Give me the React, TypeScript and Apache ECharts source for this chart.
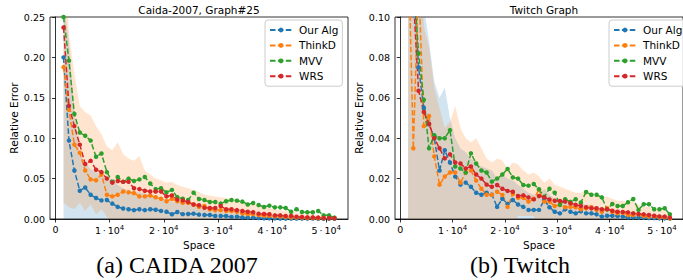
import React, { useEffect, useRef } from "react";
import * as echarts from "echarts";

// x values (Space) shared by both panels
const SPACE = [
  1500, 2500, 3500, 4500, 5500, 6500, 7500, 8500, 9500, 10500,
  11500, 12500, 13500, 14500, 15500, 16500, 17500, 18500, 19500, 20500,
  21500, 22500, 23500, 24500, 25500, 26500, 27500, 28500, 29500, 30500,
  31500, 32500, 33500, 34500, 35500, 36500, 37500, 38500, 39500, 40500,
  41500, 42500, 43500, 44500, 45500, 46500, 47500, 48500, 49500, 50500,
  51500,
];
const SERIES_NAMES = ["Our Alg", "ThinkD", "MVV", "WRS"];
const X_TICKS = [0, 10000, 20000, 30000, 40000, 50000];

// ---------- Caida-2007, Graph#25 ----------
const caidaOurAlg = [
  0.2, 0.097, 0.06, 0.035, 0.039, 0.03, 0.026, 0.023, 0.0235, 0.019,
  0.015, 0.013, 0.012, 0.011, 0.012, 0.011, 0.012, 0.0115, 0.01, 0.009,
  0.0058, 0.0087, 0.006, 0.0062, 0.0066, 0.0054, 0.005, 0.005, 0.0038, 0.0037,
  0.0037, 0.0026, 0.0029, 0.002, 0.0017, 0.0017, 0.0012, 0.0009, 0.0009, 0.0008,
  0.0007, 0.0007, 0.0006, 0.0006, 0.0005, 0.0005, 0.0005, 0.0004, 0.0004, 0.0004,
  0.0003,
];
const caidaThinkD = [
  0.188, 0.135, 0.092, 0.082, 0.06, 0.049, 0.048, 0.055, 0.03, 0.028,
  0.03, 0.034, 0.033, 0.032, 0.028, 0.028, 0.029, 0.027, 0.025, 0.022,
  0.025, 0.022, 0.02, 0.02, 0.018, 0.015, 0.016, 0.012, 0.011, 0.011,
  0.01, 0.01, 0.009, 0.007, 0.006, 0.006, 0.005, 0.004, 0.004, 0.0033,
  0.003, 0.0025, 0.002, 0.0018, 0.0017, 0.0013, 0.0012, 0.001, 0.001, 0.0008,
  0.0008,
];
const caidaMVV = [
  0.25, 0.196, 0.13, 0.107, 0.103, 0.097, 0.077, 0.081, 0.058, 0.046,
  0.052, 0.046, 0.05, 0.047, 0.049, 0.052, 0.044, 0.037, 0.038, 0.033,
  0.036, 0.027, 0.025, 0.0235, 0.0326, 0.0248, 0.0235, 0.021, 0.021, 0.019,
  0.022, 0.0235, 0.0227, 0.0215, 0.018, 0.0198, 0.0173, 0.0149, 0.0165, 0.0144,
  0.0144, 0.0136, 0.009, 0.012, 0.0087, 0.0083, 0.0083, 0.0099, 0.0045, 0.0045,
  0.0017,
];
const caidaWRS = [
  0.237, 0.14, 0.115, 0.092, 0.068, 0.072, 0.061, 0.058, 0.05, 0.045,
  0.047, 0.046, 0.046, 0.038, 0.037, 0.035, 0.034, 0.034, 0.034, 0.028,
  0.029, 0.024, 0.023, 0.021, 0.018, 0.017, 0.014, 0.0136, 0.0136, 0.016,
  0.012, 0.012, 0.011, 0.0099, 0.009, 0.0083, 0.0066, 0.0062, 0.0058, 0.0045,
  0.0045, 0.0037, 0.0037, 0.0029, 0.0025, 0.002, 0.002, 0.0017, 0.0012, 0.0012,
  0.001,
];
const caidaOurAlgHi = [
  0.27, 0.22, 0.13, 0.08, 0.07, 0.062, 0.058, 0.055, 0.052, 0.048,
  0.042, 0.038, 0.036, 0.034, 0.033, 0.032, 0.03, 0.028, 0.026, 0.024,
  0.022, 0.021, 0.02, 0.019, 0.018, 0.017, 0.016, 0.015, 0.014, 0.013,
  0.012, 0.011, 0.01, 0.009, 0.008, 0.007, 0.006, 0.006, 0.005, 0.005,
  0.004, 0.004, 0.003, 0.003, 0.003, 0.002, 0.002, 0.002, 0.002, 0.002,
  0.001,
];
const caidaOurAlgLo = [
  0.0, -0.01, -0.01, -0.01, -0.01, -0.01, -0.01, -0.01, -0.01, -0.01,
  -0.01, -0.01, -0.01, -0.01, -0.01, -0.01, -0.01, -0.01, -0.01, -0.01,
  -0.01, -0.01, -0.01, -0.01, -0.01, -0.01, -0.01, -0.01, -0.01, -0.01,
  -0.01, -0.01, -0.01, -0.01, -0.01, -0.01, -0.01, -0.01, -0.01, -0.01,
  -0.01, -0.01, -0.01, -0.01, -0.01, -0.01, -0.01, -0.01, -0.01, -0.01,
  -0.01,
];
const caidaThinkDHi = [
  0.36, 0.23, 0.18, 0.14, 0.132, 0.128, 0.115, 0.105, 0.09, 0.085,
  0.095, 0.08, 0.075, 0.072, 0.078, 0.06, 0.055, 0.05, 0.048, 0.045,
  0.046, 0.042, 0.04, 0.038, 0.036, 0.033, 0.03, 0.029, 0.028, 0.027,
  0.026, 0.025, 0.024, 0.022, 0.02, 0.018, 0.017, 0.015, 0.014, 0.012,
  0.011, 0.01, 0.009, 0.008, 0.007, 0.006, 0.006, 0.005, 0.004, 0.004,
  0.003,
];
const caidaThinkDLo = [
  0.02, 0.015, 0.012, 0.02, 0.01, 0.018, 0.006, 0.012, 0.003, -0.01,
  -0.02, -0.02, -0.02, -0.02, -0.02, -0.02, -0.02, -0.02, -0.02, -0.02,
  -0.02, -0.02, -0.02, -0.02, -0.02, -0.02, -0.02, -0.02, -0.02, -0.02,
  -0.02, -0.02, -0.02, -0.02, -0.02, -0.02, -0.02, -0.02, -0.02, -0.02,
  -0.02, -0.02, -0.02, -0.02, -0.02, -0.02, -0.02, -0.02, -0.02, -0.02,
  -0.02,
];

// ---------- Twitch Graph ----------
const twitchOurAlg = [
  0.14, 0.12, 0.075, 0.055, 0.047, 0.04, 0.024, 0.034, 0.028, 0.021,
  0.017, 0.018, 0.016, 0.013, 0.012, 0.013, 0.012, 0.006, 0.01, 0.0075,
  0.0094, 0.0072, 0.006, 0.0045, 0.0045, 0.0045, 0.0094, 0.0058, 0.0036, 0.0028,
  0.0048, 0.0036, 0.0028, 0.0038, 0.0028, 0.0028, 0.0023, 0.0012, 0.0016, 0.0016,
  0.0015, 0.0012, 0.0008, 0.0008, 0.0007, 0.0007, 0.0005, 0.0005, 0.0003, 0.0003,
  0.0002,
];
const twitchThinkD = [
  0.14, 0.035, 0.12, 0.046, 0.051, 0.031, 0.017, 0.021, 0.023, 0.023,
  0.018, 0.023, 0.024, 0.019, 0.015, 0.012, 0.012, 0.0135, 0.0119, 0.006,
  0.0125, 0.0105, 0.0105, 0.0086, 0.01, 0.0144, 0.0086, 0.0086, 0.0064, 0.007,
  0.0058, 0.006, 0.0058, 0.0048, 0.0053, 0.0058, 0.0045, 0.0036, 0.0053, 0.0036,
  0.0028, 0.0031, 0.002, 0.002, 0.0023, 0.0015, 0.0012, 0.0012, 0.0008, 0.0008,
  0.0003,
];
const twitchMVV = [
  0.13, 0.12, 0.082, 0.059, 0.035, 0.0415, 0.04, 0.04, 0.044, 0.026,
  0.025, 0.023, 0.0325, 0.0275, 0.024, 0.023, 0.0185, 0.02, 0.022, 0.0248,
  0.0206, 0.02, 0.0168, 0.0165, 0.0173, 0.0147, 0.011, 0.015, 0.013, 0.007,
  0.0098, 0.0085, 0.0098, 0.0082, 0.0134, 0.012, 0.012, 0.0107, 0.0048, 0.0074,
  0.0064, 0.0064, 0.0083, 0.0099, 0.0045, 0.0073, 0.0073, 0.0048, 0.0048, 0.0053,
  0.0023,
];
const twitchWRS = [
  0.15, 0.11, 0.0635, 0.053, 0.047, 0.04, 0.035, 0.03, 0.032, 0.028,
  0.0275, 0.025, 0.026, 0.022, 0.02, 0.017, 0.016, 0.0168, 0.015, 0.0139,
  0.0135, 0.0114, 0.0117, 0.0107, 0.0097, 0.0114, 0.0107, 0.0097, 0.009, 0.0089,
  0.0086, 0.0078, 0.007, 0.0064, 0.0058, 0.0053, 0.0053, 0.0048, 0.0048, 0.0041,
  0.0036, 0.0035, 0.0033, 0.0028, 0.0025, 0.0023, 0.002, 0.0016, 0.0013, 0.0012,
  0.0007,
];
const twitchOurAlgHi = [
  0.2, 0.2, 0.16, 0.105, 0.088, 0.068, 0.06, 0.065, 0.05, 0.04,
  0.035, 0.033, 0.03, 0.028, 0.026, 0.025, 0.024, 0.02, 0.022, 0.02,
  0.019, 0.017, 0.015, 0.013, 0.012, 0.012, 0.015, 0.012, 0.01, 0.009,
  0.01, 0.009, 0.008, 0.008, 0.007, 0.007, 0.006, 0.005, 0.005, 0.005,
  0.004, 0.004, 0.003, 0.003, 0.003, 0.003, 0.002, 0.002, 0.002, 0.002,
  0.001,
];
const twitchOurAlgLo = [
  -0.01, -0.01, -0.01, -0.01, -0.01, -0.01, -0.01, -0.01, -0.01, -0.01,
  -0.01, -0.01, -0.01, -0.01, -0.01, -0.01, -0.01, -0.01, -0.01, -0.01,
  -0.01, -0.01, -0.01, -0.01, -0.01, -0.01, -0.01, -0.01, -0.01, -0.01,
  -0.01, -0.01, -0.01, -0.01, -0.01, -0.01, -0.01, -0.01, -0.01, -0.01,
  -0.01, -0.01, -0.01, -0.01, -0.01, -0.01, -0.01, -0.01, -0.01, -0.01,
  -0.01,
];
const twitchThinkDHi = [
  0.25, 0.2, 0.16, 0.095, 0.085, 0.065, 0.055, 0.045, 0.048, 0.056,
  0.045, 0.04, 0.038, 0.04, 0.035, 0.03, 0.028, 0.03, 0.029, 0.025,
  0.028, 0.027, 0.024, 0.022, 0.023, 0.021, 0.018, 0.02, 0.017, 0.016,
  0.015, 0.014, 0.013, 0.013, 0.014, 0.013, 0.012, 0.011, 0.011, 0.01,
  0.009, 0.009, 0.008, 0.009, 0.007, 0.006, 0.006, 0.005, 0.005, 0.004,
  0.003,
];
const twitchThinkDLo = [
  -0.02, -0.02, -0.02, -0.02, -0.02, -0.02, -0.02, -0.02, -0.02, -0.02,
  -0.02, -0.02, -0.02, -0.02, -0.02, -0.02, -0.02, -0.02, -0.02, -0.01,
  -0.005, 0.0015, 0.0015, 0.0015, 0.0015, -0.005, -0.01, -0.01, -0.01, -0.01,
  -0.01, -0.01, -0.01, -0.01, -0.01, -0.01, -0.01, -0.01, -0.01, -0.01,
  -0.01, -0.01, -0.01, -0.01, -0.01, -0.01, -0.01, -0.01, -0.01, -0.01,
  -0.01,
];

const COLORS = ["#1f77b4", "#ff7f0e", "#2ca02c", "#d62728"];
const FONT = "DejaVu Sans";

function lineSeries(panel: number, name: string, vals: number[], color: string) {
  return {
    type: "line",
    name,
    xAxisIndex: panel,
    yAxisIndex: panel,
    data: SPACE.map((x, i) => [x, vals[i]]),
    symbol: "circle",
    symbolSize: 4.5,
    showSymbol: true,
    lineStyle: { type: [5.5, 2.4], width: 1.5, color },
    itemStyle: { color },
    clip: true,
    z: 5,
  };
}

function bandSeries(panel: number, lo: number[], hi: number[], color: string, z: number) {
  return {
    type: "custom",
    xAxisIndex: panel,
    yAxisIndex: panel,
    silent: true,
    clip: true,
    z,
    data: [[SPACE[0], 0]],
    encode: { x: 0, y: 1 },
    renderItem: (_params: any, api: any) => {
      const pts: number[][] = [];
      for (let i = 0; i < SPACE.length; i++) pts.push(api.coord([SPACE[i], hi[i]]));
      for (let i = SPACE.length - 1; i >= 0; i--) pts.push(api.coord([SPACE[i], lo[i]]));
      return {
        type: "polygon",
        shape: { points: pts },
        style: { fill: color, fillOpacity: 0.2, opacity: 1 },
      };
    },
  };
}

function xAxis(panel: number) {
  return {
    type: "value",
    gridIndex: panel,
    min: -1000,
    max: 54000,
    name: "Space",
    nameLocation: "middle",
    nameGap: 17,
    nameTextStyle: { fontSize: 10.5, fontFamily: FONT, color: "#000" },
    splitLine: { show: false },
    axisLine: { lineStyle: { color: "#000", width: 0.8 } },
    axisTick: { customValues: X_TICKS, length: 3.5, lineStyle: { color: "#000", width: 0.8 } },
    axisLabel: {
      customValues: X_TICKS,
      margin: 5,
      formatter: (v: number) =>
        v === 0 ? "{n|0}" : `{n|${v / 10000}\u2009·\u200910}{s|4}`,
      rich: {
        n: { fontSize: 9.5, fontFamily: FONT, color: "#000" },
        s: { fontSize: 7, fontFamily: FONT, color: "#000", padding: [0, 0, 5, 0] },
      },
    },
  };
}

function yAxis(panel: number, max: number, interval: number) {
  return {
    type: "value",
    gridIndex: panel,
    min: 0,
    max,
    interval,
    name: "Relative Error",
    nameLocation: "middle",
    nameGap: 30,
    nameTextStyle: { fontSize: 10.5, fontFamily: FONT, color: "#000" },
    splitLine: { show: false },
    axisLine: { show: true, lineStyle: { color: "#000", width: 0.8 } },
    axisTick: { show: true, length: 3.5, lineStyle: { color: "#000", width: 0.8 } },
    axisLabel: {
      margin: 5,
      fontSize: 9.5,
      fontFamily: FONT,
      color: "#000",
      formatter: (v: number) => v.toFixed(2),
    },
  };
}

function legend(left: number) {
  return {
    data: SERIES_NAMES,
    orient: "vertical",
    left,
    top: 20,
    padding: [4, 4, 4, 4],
    itemWidth: 22,
    itemHeight: 6,
    itemGap: 3.4,
    backgroundColor: "rgba(255,255,255,0.8)",
    borderColor: "#cccccc",
    borderWidth: 1,
    borderRadius: 3,
    textStyle: { fontSize: 10.5, fontFamily: FONT, color: "#000", lineHeight: 12, padding: [0, 0, 0, 2] },
  };
}

export default function App() {
  const ref = useRef<HTMLDivElement>(null);
  useEffect(() => {
    if (!ref.current) return;
    const chart = echarts.init(ref.current, null, { renderer: "svg" });
    const caida = [caidaOurAlg, caidaThinkD, caidaMVV, caidaWRS];
    const twitch = [twitchOurAlg, twitchThinkD, twitchMVV, twitchWRS];
    const option: any = {
      animation: false,
      backgroundColor: "#ffffff",
      grid: [
        { left: 50, top: 17, width: 298, height: 202, show: true, borderColor: "#000", borderWidth: 0.8 },
        { left: 395, top: 17, width: 298, height: 202, show: true, borderColor: "#000", borderWidth: 0.8 },
      ],
      xAxis: [xAxis(0), xAxis(1)],
      yAxis: [yAxis(0, 0.25, 0.05), yAxis(1, 0.1, 0.02)],
      legend: [legend(265), legend(609)],
      series: [
        bandSeries(0, caidaOurAlgLo, caidaOurAlgHi, COLORS[0], 1),
        bandSeries(0, caidaThinkDLo, caidaThinkDHi, COLORS[1], 2),
        bandSeries(1, twitchOurAlgLo, twitchOurAlgHi, COLORS[0], 1),
        bandSeries(1, twitchThinkDLo, twitchThinkDHi, COLORS[1], 2),
        ...SERIES_NAMES.map((n, k) => lineSeries(0, n, caida[k], COLORS[k])),
        ...SERIES_NAMES.map((n, k) => lineSeries(1, n, twitch[k], COLORS[k])),
      ],
      graphic: [
        {
          type: "text", x: 199, y: 10,
          style: { text: "Caida-2007, Graph#25", fontSize: 10.5, fontFamily: FONT, fill: "#000",
            align: "center", verticalAlign: "middle", textAlign: "center", textVerticalAlign: "middle" },
        },
        {
          type: "text", x: 544, y: 10,
          style: { text: "Twitch Graph", fontSize: 10.5, fontFamily: FONT, fill: "#000",
            align: "center", verticalAlign: "middle", textAlign: "center", textVerticalAlign: "middle" },
        },
        {
          type: "text", x: 177, y: 265,
          style: { text: "(a) CAIDA 2007", fontSize: 24, fontFamily: "Liberation Serif", fill: "#000",
            align: "center", verticalAlign: "middle", textAlign: "center", textVerticalAlign: "middle" },
        },
        {
          type: "text", x: 520, y: 265,
          style: { text: "(b) Twitch", fontSize: 24, fontFamily: "Liberation Serif", fill: "#000",
            align: "center", verticalAlign: "middle", textAlign: "center", textVerticalAlign: "middle" },
        },
      ],
    };
    chart.setOption(option);
    return () => chart.dispose();
  }, []);
  return (
    <div
      ref={ref}
      style={{ position: "absolute", left: 0, top: 0, width: 683, height: 280, background: "#fff" }}
    />
  );
}
